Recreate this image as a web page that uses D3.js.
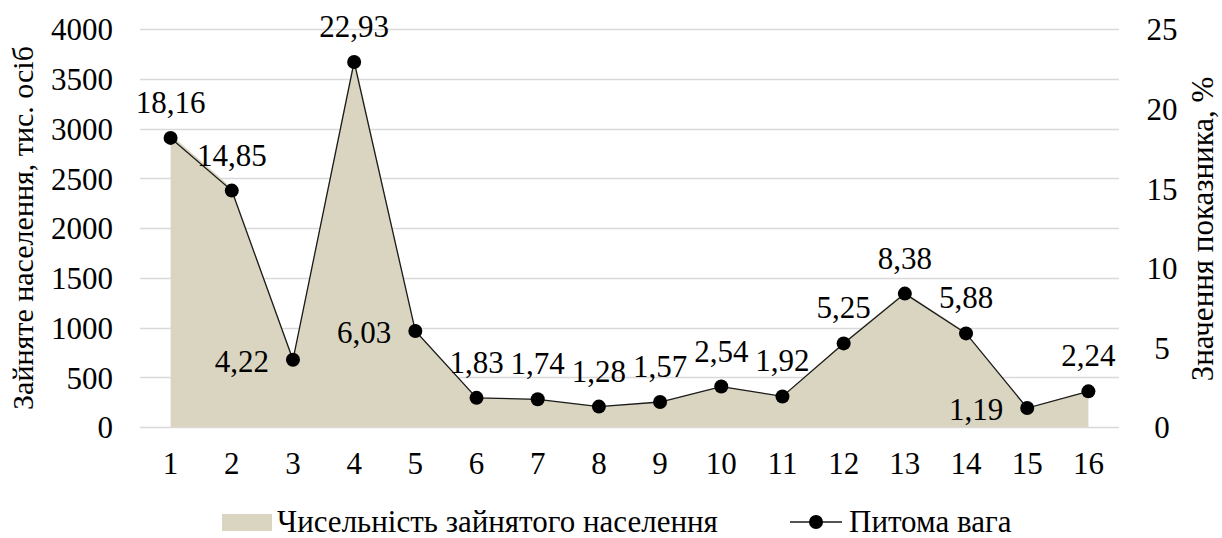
<!DOCTYPE html>
<html>
<head>
<meta charset="utf-8">
<script src="https://cdn.jsdelivr.net/npm/d3@7"></script>
</head>
<body style="margin:0;background:#fff">
<svg id="chart" width="1222" height="538" style="font-family: 'Liberation Serif', 'Times New Roman', serif"></svg>
<script>
// Regions 1..16
const categories = ["1","2","3","4","5","6","7","8","9","10","11","12","13","14","15","16"];
// Employed population, thousand persons (left axis)
const employed = [2940, 2405, 684, 3715, 977, 296, 282, 207, 254, 411, 311, 851, 1358, 953, 193, 363];
// Share, % (right axis)
const share = [18.16, 14.85, 4.22, 22.93, 6.03, 1.83, 1.74, 1.28, 1.57, 2.54, 1.92, 5.25, 8.38, 5.88, 1.19, 2.24];
const shareLabels = ["18,16","14,85","4,22","22,93","6,03","1,83","1,74","1,28","1,57","2,54","1,92","5,25","8,38","5,88","1,19","2,24"];
// Label placement: "t" above the marker, "l" to the left
const labelPos = ["t","t","l","t","l","t","t","t","t","t","t","t","t","t","l","t"];
const leftTicks = [0, 500, 1000, 1500, 2000, 2500, 3000, 3500, 4000];
const rightTicks = [0, 5, 10, 15, 20, 25];

const FONT = "'Liberation Serif', 'Times New Roman', serif";
const FS = 31;

const svg = d3.select("#chart");
const plot = { left: 140, right: 1119, top: 29, bottom: 427 };

// every text element gets the serif face explicitly
const serif = sel => sel.style("font-family", FONT).attr("font-family", "Liberation Serif");

const x = d3.scaleBand().domain(categories).range([plot.left, plot.right]);
const cx = d => x(d) + x.bandwidth() / 2;
const yL = d3.scaleLinear().domain([0, 4000]).range([plot.bottom, plot.top]);
const yR = d3.scaleLinear().domain([0, 25]).range([plot.bottom, plot.top]);

// Horizontal gridlines
svg.append("g")
  .selectAll("line")
  .data(leftTicks)
  .join("line")
  .attr("x1", plot.left).attr("x2", plot.right)
  .attr("y1", d => Math.round(yL(d)) + 0.5).attr("y2", d => Math.round(yL(d)) + 0.5)
  .attr("stroke", "#d9d9d9").attr("stroke-width", 1.3);

// Employed population area
const area = d3.area()
  .x((d, i) => cx(categories[i]))
  .y0(yL(0))
  .y1(d => yL(d));
svg.append("path")
  .datum(employed)
  .attr("d", area)
  .attr("fill", "#d9d5c1");

// Share line with markers
const line = d3.line()
  .x((d, i) => cx(categories[i]))
  .y(d => yR(d));
svg.append("path")
  .datum(share)
  .attr("d", line)
  .attr("fill", "none")
  .attr("stroke", "#1a1a1a")
  .attr("stroke-width", 1.3);

svg.append("g")
  .selectAll("circle")
  .data(share)
  .join("circle")
  .attr("cx", (d, i) => cx(categories[i]))
  .attr("cy", d => yR(d))
  .attr("r", 7)
  .attr("fill", "#000");

// Data labels
svg.append("g")
  .selectAll("text")
  .data(share)
  .join("text")
  .attr("x", (d, i) => labelPos[i] === "l" ? cx(categories[i]) - 24 : cx(categories[i]))
  .attr("y", (d, i) => labelPos[i] === "l" ? yR(d) + 12 : yR(d) - 25)
  .attr("text-anchor", (d, i) => labelPos[i] === "l" ? "end" : "middle")
  .attr("font-size", FS)
  .attr("fill", "#000")
  .text((d, i) => shareLabels[i])
  .call(serif);

// Left axis
const axisL = d3.axisLeft(yL).tickValues(leftTicks).tickFormat(d3.format("d")).tickSize(0).tickPadding(27);
const gL = svg.append("g").attr("transform", `translate(${plot.left},0)`).call(axisL)
  .attr("font-size", FS).call(serif);
gL.select(".domain").remove();
gL.selectAll("text").attr("dy", "0.35em").attr("fill", "#000").call(serif);

// Right axis
const axisR = d3.axisRight(yR).tickValues(rightTicks).tickSize(0).tickPadding(43);
const gR = svg.append("g").attr("transform", `translate(${plot.right},0)`).call(axisR)
  .attr("font-size", FS).call(serif);
gR.select(".domain").remove();
gR.selectAll("text").attr("dy", "0.35em").attr("text-anchor", "middle").attr("fill", "#000").call(serif);

// Category axis
const axisB = d3.axisBottom(x).tickSize(0).tickPadding(25);
const gB = svg.append("g").attr("transform", `translate(0,${plot.bottom})`).call(axisB)
  .attr("font-size", FS).call(serif);
gB.select(".domain").remove();
gB.selectAll("text").attr("dy", "0.71em").attr("fill", "#000").call(serif);

// Axis titles
svg.append("text")
  .attr("transform", `translate(33,${(plot.top + plot.bottom) / 2}) rotate(-90)`)
  .attr("text-anchor", "middle")
  .attr("font-size", 30)
  .attr("fill", "#000")
  .text("Зайняте населення, тис. осіб")
  .call(serif);

svg.append("text")
  .attr("transform", `translate(1213,229) rotate(-90)`)
  .attr("text-anchor", "middle")
  .attr("font-size", 31)
  .attr("fill", "#000")
  .text("Значення показника, %")
  .call(serif);

// Legend
const legend = svg.append("g").attr("transform", "translate(0,522)");
legend.append("rect")
  .attr("x", 222).attr("y", -8).attr("width", 50).attr("height", 17)
  .attr("fill", "#d9d5c1");
legend.append("text")
  .attr("x", 277).attr("y", 10)
  .attr("font-size", FS)
  .attr("fill", "#000")
  .text("Чисельність зайнятого населення")
  .call(serif);
legend.append("line")
  .attr("x1", 790).attr("x2", 842).attr("y1", 0).attr("y2", 0)
  .attr("stroke", "#1a1a1a").attr("stroke-width", 1.3);
legend.append("circle")
  .attr("cx", 816).attr("cy", 0).attr("r", 7).attr("fill", "#000");
legend.append("text")
  .attr("x", 849).attr("y", 10)
  .attr("font-size", FS)
  .attr("fill", "#000")
  .text("Питома вага")
  .call(serif);
</script>
</body>
</html>
